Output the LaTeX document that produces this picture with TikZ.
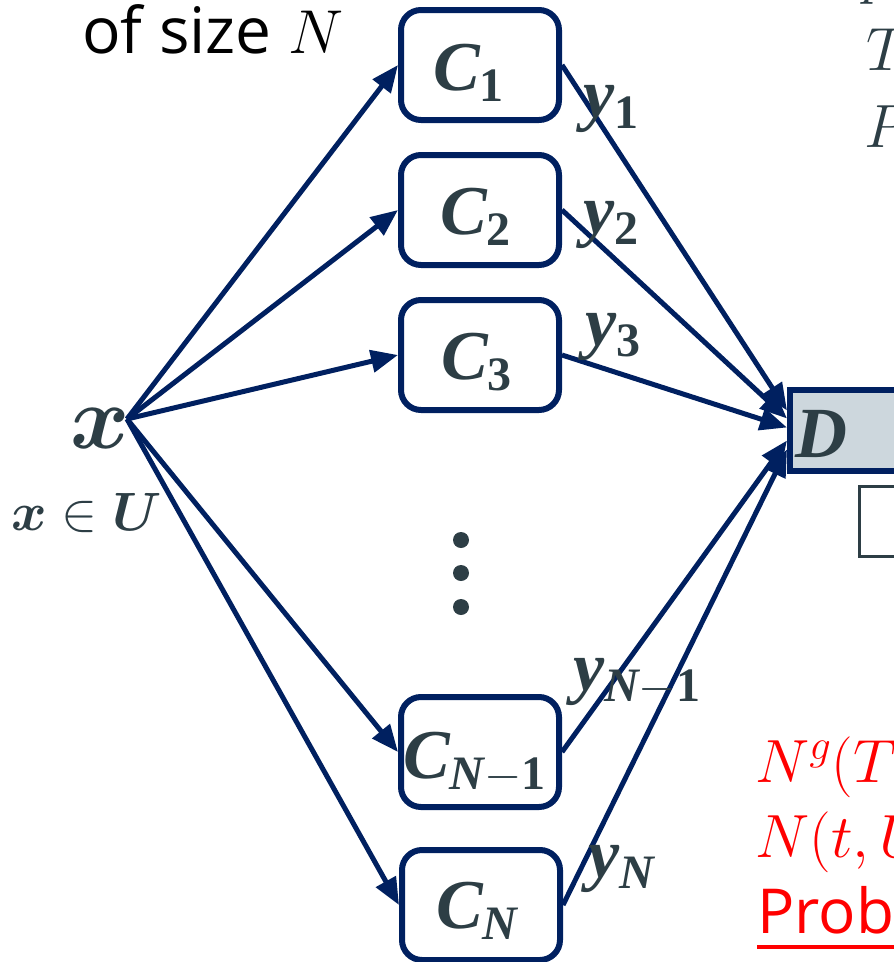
\RequirePackage{fix-cm}
\documentclass[tikz,border=0pt]{standalone}
\usepackage[no-math]{fontspec}
\usepackage{amsmath}
\usetikzlibrary{arrows.meta,calc}
\newfontfamily\comicf{Open Sans}
\newfontfamily\lsf{Liberation Serif}
\newcommand\bi[1]{{\lsf\bfseries\itshape #1}}
\newcommand\sbs[1]{\raisebox{-11pt}{\fontsize{48}{52}\selectfont\lsf\bfseries #1}}
\definecolor{navy}{HTML}{002060}
\definecolor{slate}{HTML}{2D3E45}
\definecolor{dfill}{HTML}{CDD7DD}
\definecolor{redt}{HTML}{FF0000}
\begin{document}
\begin{tikzpicture}[x=1pt,y=-1pt,
  cbox/.style={draw=navy,line width=6pt,rounded corners=20pt,minimum width=158pt,minimum height=110pt,inner sep=0pt,fill=white},
  lab/.style={text=slate,inner sep=0pt,anchor=base west,font=\fontsize{70}{80}\selectfont},
  redlab/.style={text=redt,inner sep=0pt,anchor=base west,font=\fontsize{61}{72}\selectfont},
  arr/.style={draw=navy,line width=5pt,-{Triangle[length=27pt,width=22pt]}},
  dotn/.style={circle,fill=slate,inner sep=0pt,minimum size=16pt}]
\useasboundingbox (0,0) rectangle (894,962);
\clip (0,0) rectangle (894,962);

% boxes
\node[cbox] (c1) at (480,65) {};
\node[cbox] (c2) at (480,210) {};
\node[cbox] (c3) at (480,355) {};
\node[cbox] (cm) at (480,752) {};
\node[cbox] (cn) at (481,905) {};

\node[draw=navy,line width=6pt,fill=dfill,minimum width=180pt,minimum height=81pt,inner sep=0pt] (d) at (880,430.5) {};
\node[draw=slate,line width=3pt,minimum width=120pt,minimum height=70pt,inner sep=0pt] (e) at (919.5,521.5) {};

% source
\coordinate (xo) at (127,419);

% arrows from x
\draw[arr] (xo) -- (c1.west);
\draw[arr] (xo) -- (c2.west);
\draw[arr] (xo) -- (c3.west);
\draw[arr] (xo) -- (cm.west);
\draw[arr] (xo) -- (cn.west);

% arrows to D
\draw[arr] (c1.east) -- ([yshift=20pt]d.west);
\draw[arr] (c2.east) -- ([yshift=12pt]d.west);
\draw[arr] (c3.east) -- ([yshift=3pt]d.west);
\draw[arr] (cm.east) -- ([yshift=-10pt]d.west);
\draw[arr] (cn.east) -- ([yshift=-19pt]d.west);

% labels
\node[lab] (t1) at (433,90) {\bi{C}\sbs{1}};
\node[lab] (t2) at (440,234) {\bi{C}\sbs{2}};
\node[lab] (t3) at (441,379) {\bi{C}\sbs{3}};
\node[lab] (tm) at (403,778) {\bi{C}\sbs{{\itshape N}$-$1}};
\node[lab] (tn) at (436,928) {\bi{C}\sbs{\itshape N}};

\node[lab] (y1) at (583,117) {\bi{y}\sbs{1}};
\node[lab] (y2) at (583,233) {\bi{y}\sbs{2}};
\node[lab] (y3) at (585,345) {\bi{y}\sbs{3}};
\node[lab] (ym) at (573,690) {\bi{y}\sbs{{\itshape N}$-$1}};
\node[lab] (yn) at (588,877) {\bi{y}\sbs{\itshape N}};

\node[lab,font=\fontsize{90}{100}\selectfont] (xl) at (70,448) {$\boldsymbol{x}$};
\node[lab,font=\fontsize{54}{64}\selectfont] (xu) at (11,530) {$\boldsymbol{x}\in\boldsymbol{U}$};
\node[lab,font=\fontsize{72}{80}\selectfont] (dl) at (795,457) {\bi{D}};

\node[dotn] (v1) at (461,540) {};
\node[dotn] (v2) at (461,573) {};
\node[dotn] (v3) at (461,607) {};

% top left
\node[inner sep=0pt,anchor=base west,font=\fontsize{64}{72}\selectfont] (sz) at (82,53) {\comicf of size \fontsize{62}{72}\selectfont$N$};

% top right
\node[lab,font=\fontsize{61}{72}\selectfont] (pp) at (862,-8) {$p$};
\node[lab,font=\fontsize{61}{72}\selectfont] (tt) at (866,70) {$T$};
\node[lab,font=\fontsize{61}{72}\selectfont] (pq) at (864,147) {$P$};

% bottom right red
\node[redlab] (r1) at (755,782) {$N^g(T$};
\node[redlab] (r2) at (755,857) {$N(t,U$};
\node[redlab,font=\fontsize{62}{72}\selectfont\comicf] (r3) at (757,933) {Prob};
\draw[redt,line width=4pt] ([yshift=-14pt]r3.base west) -- ++(150,0);
\end{tikzpicture}
\end{document}
